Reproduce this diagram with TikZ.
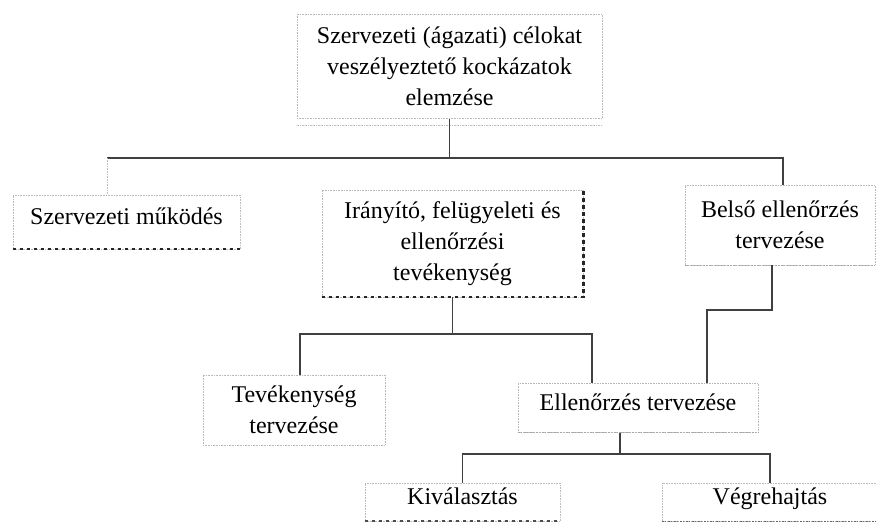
\documentclass[tikz,border=0pt]{standalone}
\usepackage{fontspec}
\setmainfont{Liberation Serif}
\usetikzlibrary{positioning}

\tikzset{
  box/.style={draw=gray!55, densely dotted, line width=0.6pt, align=center, inner sep=0pt,
    font=\fontsize{24}{31}\selectfont},
  oneline/.style={text height=0.7em, text depth=0.22em},
  conn/.style={draw=black!75, line width=1.9pt},
  faint/.style={draw=gray!50, densely dotted, line width=0.6pt},
  heavy/.style={draw=black!85, line width=2.4pt, dash pattern=on 3.5pt off 3.5pt},
  lightdash/.style={draw=gray!70, line width=1.2pt, dash pattern=on 2pt off 1.5pt on 1pt off 1.5pt},
}

\begin{document}
\begin{tikzpicture}[x=1pt, y=-1pt]
  \useasboundingbox (0,0) rectangle (876,526);

  % first level
  \node[box, minimum width=305pt, minimum height=104pt] (risk) at (449.5,66.5)
    {Szervezeti (ágazati) célokat\\veszélyeztető kockázatok\\elemzése};

  % second level
  \node[box, oneline, minimum width=227pt, minimum height=54pt] (mukodes) at (126.5,222) {Szervezeti működés};
  \node[box, minimum width=261pt, minimum height=107pt] (iranyito) at (452.5,243.5)
    {Irányító, felügyeleti és\\ellenőrzési\\tevékenység};
  \node[box, minimum width=190pt, minimum height=80pt] (belso) at (780,225)
    {Belső ellenőrzés\\tervezése};

  % third level
  \node[box, minimum width=182pt, minimum height=70pt] (tevek) at (294,410)
    {Tevékenység\\tervezése};
  \node[box, oneline, minimum width=240pt, minimum height=49pt] (ellen) at (638,408) {Ellenőrzés tervezése};

  % fourth level
  \node[box, oneline, minimum width=195pt, minimum height=38pt] (kival) at (462.5,502) {Kiválasztás};
  \node[box, oneline, minimum width=216pt, minimum height=38pt] (vegre) at (770,502) {Végrehajtás};

  % heavier box edges
  \draw[faint] ([yshift=-7pt]risk.south west) -- ([yshift=-7pt]risk.south east);
  \draw[heavy] (mukodes.south west) -- (mukodes.south east);
  \draw[heavy] (iranyito.south west) -- (iranyito.south east) -- (iranyito.north east);
  \draw[lightdash] (belso.south west) -- (belso.south east);
  \draw[lightdash] (ellen.south west) -- (ellen.south east);
  \draw[heavy, draw=black!70, line width=1.8pt] (kival.south west) -- (kival.south east);
  \draw[lightdash, draw=black!60] (vegre.south west) -- (vegre.south east);

  % connectors
  \coordinate (busL) at (107,158);
  \coordinate (busR) at (783,158);
  \draw[conn] (risk.south) -- (risk.south |- busL);
  \draw[conn] (busL) -- (busR) -- (busR |- belso.north);
  \draw[faint] (busL) -- (busL |- mukodes.north);

  \coordinate (bus2) at (450,334);
  \draw[conn] (iranyito.south) -- (iranyito.south |- bus2);
  \draw[conn] ([xshift=6pt]tevek.north) |- (bus2) -| ([xshift=-46pt]ellen.north);
  \draw[conn] ([xshift=-8pt]belso.south) |- (707,310) -- ([xshift=69pt]ellen.north);

  \coordinate (bus3) at (620,454);
  \draw[conn] ([xshift=-18pt]ellen.south) -- ([xshift=-18pt]ellen.south |- bus3);
  \draw[conn] (kival.north) |- (bus3) -| (vegre.north);
\end{tikzpicture}
\end{document}
